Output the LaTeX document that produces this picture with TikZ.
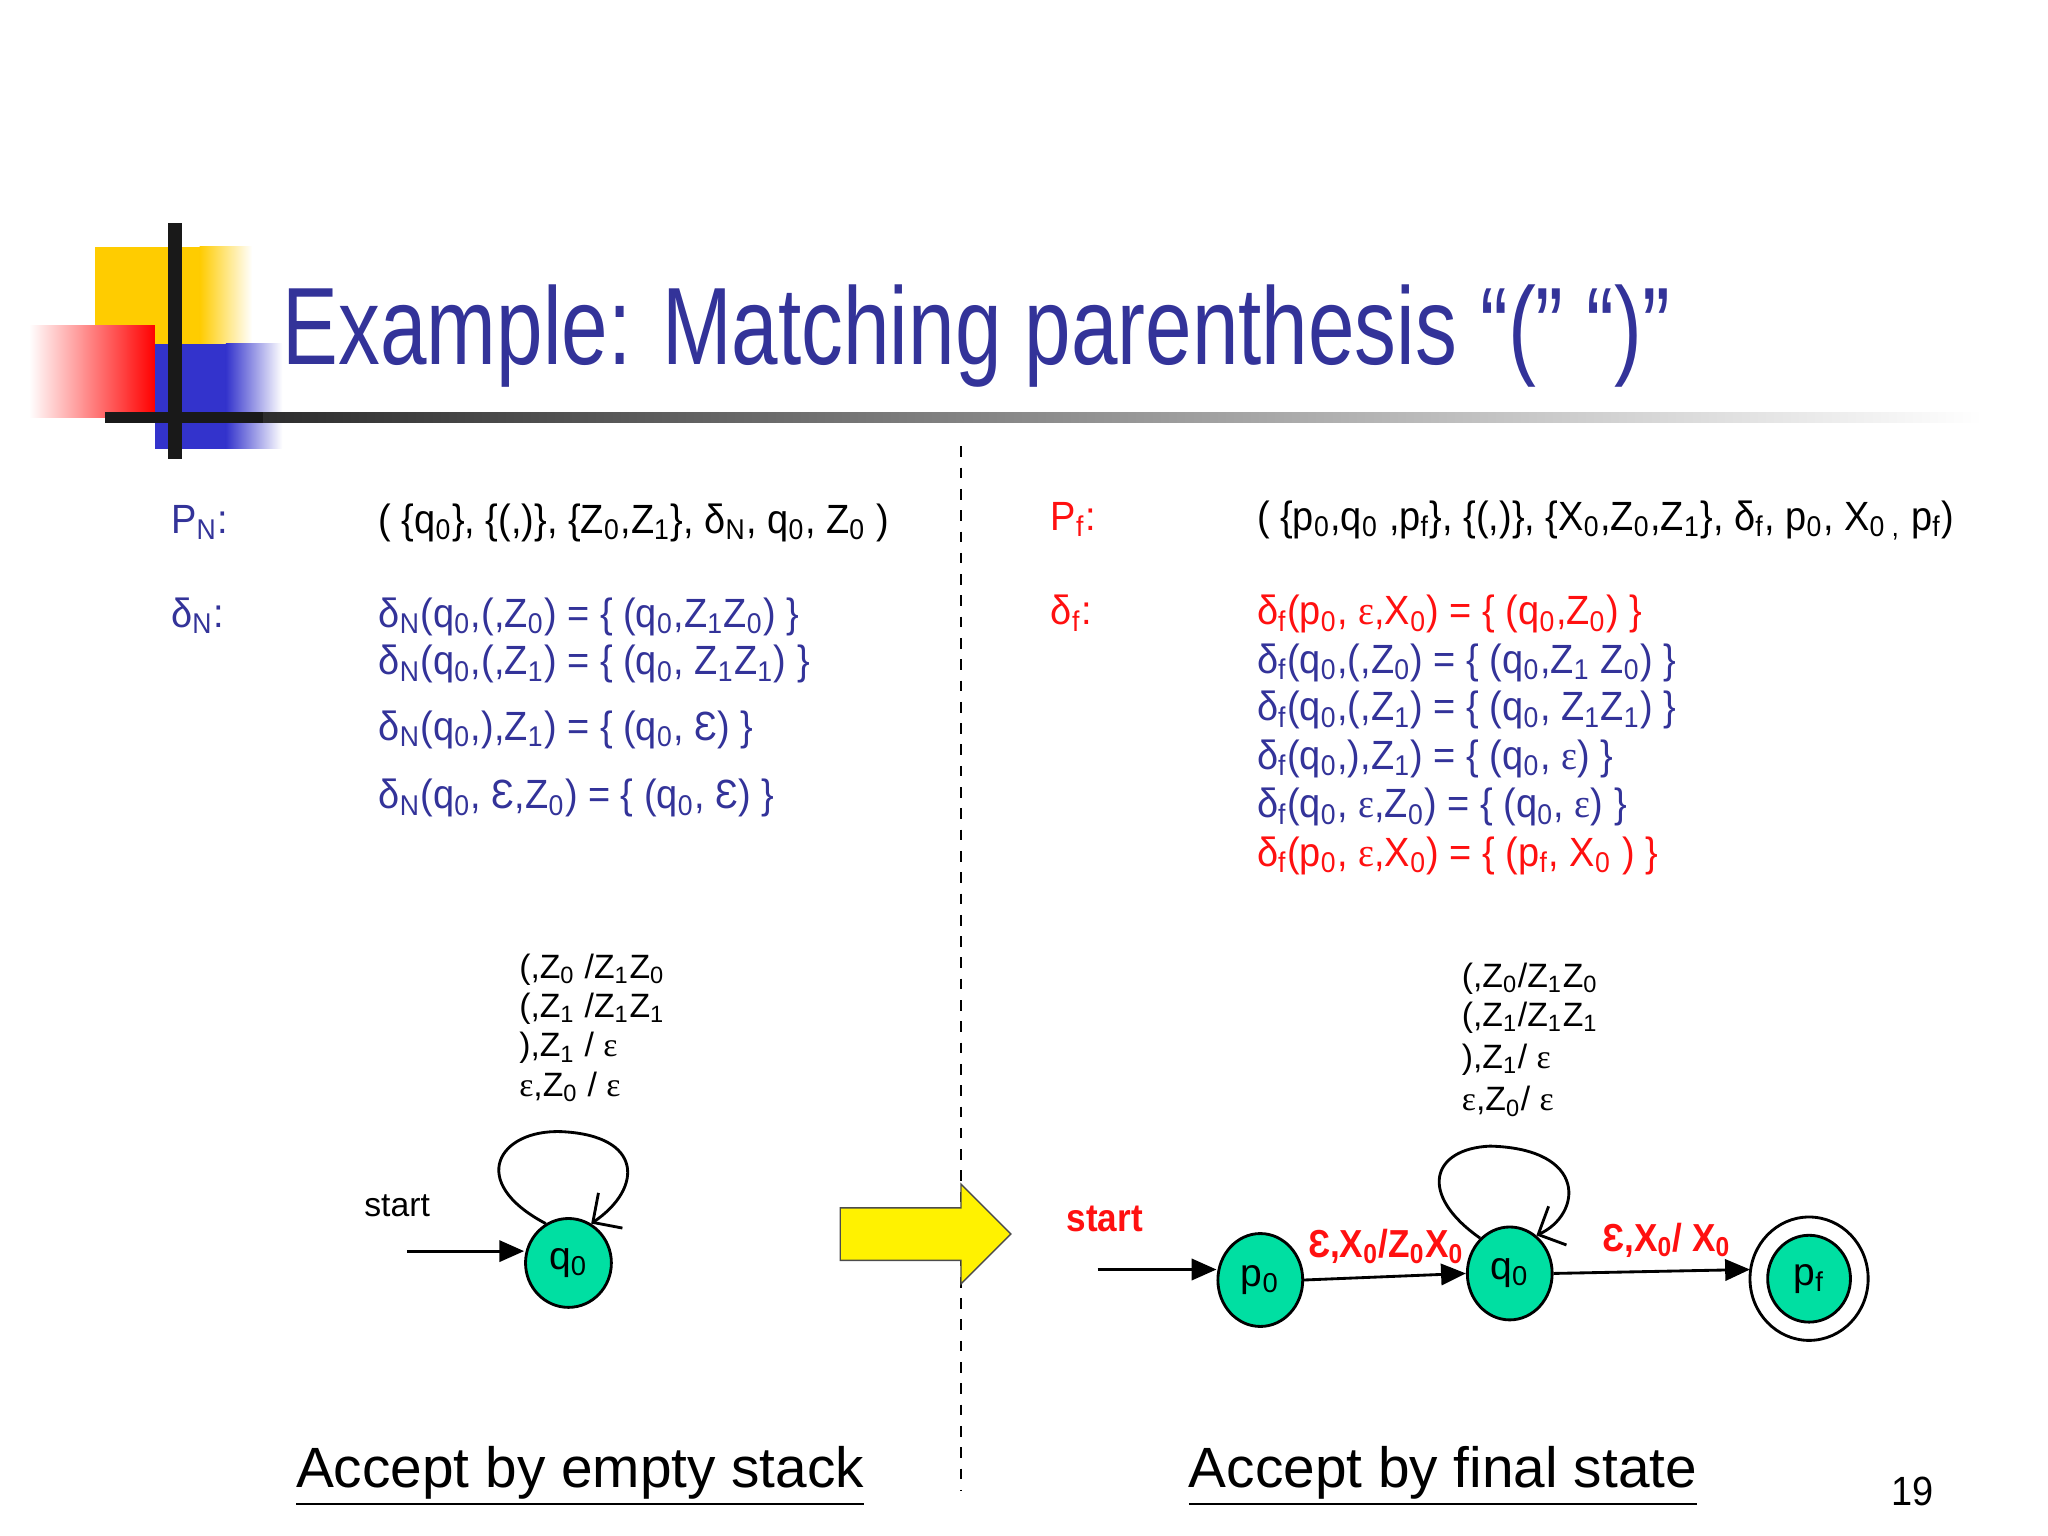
\documentclass[tikz,border=0pt]{standalone}
\usepackage{fontspec}
\setmainfont{Liberation Sans}
\newfontfamily\serifeps{Liberation Serif}
\usetikzlibrary{arrows.meta,shapes.geometric}
\newcommand{\sbs}[1]{\textsubscript{#1}}
\newcommand{\ep}{{\serifeps ε}}
\definecolor{tblue}{HTML}{333399}
\definecolor{tred}{HTML}{FF1010}
\definecolor{stgreen}{HTML}{00DFA2}
\definecolor{dyel}{HTML}{FFCC00}
\definecolor{dblue}{HTML}{3333CC}
\tikzset{
  txt/.style={anchor=base west,inner sep=0pt,xscale=0.93,transform shape,font=\fontsize{11.5pt}{14pt}\selectfont},
  small/.style={anchor=base west,inner sep=0pt,font=\fontsize{9.5pt}{12pt}\selectfont},
  st/.style={draw=black,thick,fill=stgreen,ellipse,inner sep=0pt,font=\fontsize{11pt}{13pt}\selectfont},
  lbl/.style={anchor=base west,inner sep=0pt,xscale=0.9,transform shape,text=tred,font=\bfseries\fontsize{11pt}{13pt}\selectfont},
  arr/.style={thick,-{Triangle[length=7pt,width=6pt]}},
  accept/.style={anchor=base west,inner sep=0pt,font=\fontsize{16pt}{19pt}\selectfont}
}
\begin{document}
\begin{tikzpicture}[x=0.013cm,y=-0.013cm]
\useasboundingbox (0,0) rectangle (1560,1170);
% decoration
\fill[dyel] (72,188) rectangle (152,275);
\shade[left color=dyel,right color=white] (152,188) rectangle (192,275);
\fill[dblue] (118,262) rectangle (172,342);
\shade[left color=dblue,right color=white] (172,262) rectangle (215,342);
\shade[left color=white,right color=red] (22,248) rectangle (118,318);
\shade[left color=black!90,right color=white] (80,314) rectangle (1510,322);
\fill[black!90] (80,314) rectangle (200,322);
\draw[line width=4pt,black!90] (133,170) -- (133,350);
% title
\node[anchor=base west,inner sep=0pt,xscale=0.76,transform shape,text=tblue,font=\fontsize{31pt}{36pt}\selectfont] (title) at (215,278) {Example: Matching parenthesis “(” “)”};
% divider
\draw[dashed,thin] (732,340) -- (732,1135);
% left
\node[txt,text=tblue] (pn) at (130,406) {P\sbs{N}:};
\node[txt] (pnt) at (288,406) {( \{q\sbs{0}\}, \{(,)\}, \{Z\sbs{0},Z\sbs{1}\}, δ\sbs{N}, q\sbs{0}, Z\sbs{0} )};
\node[txt,text=tblue] (dn) at (130,478) {δ\sbs{N}:};
\node[txt,text=tblue] (l1) at (288,478) {δ\sbs{N}(q\sbs{0},(,Z\sbs{0}) = \{ (q\sbs{0},Z\sbs{1}Z\sbs{0}) \}};
\node[txt,text=tblue] (l2) at (288,514) {δ\sbs{N}(q\sbs{0},(,Z\sbs{1}) = \{ (q\sbs{0}, Z\sbs{1}Z\sbs{1}) \}};
\node[txt,text=tblue] (l3) at (288,564) {δ\sbs{N}(q\sbs{0},),Z\sbs{1}) = \{ (q\sbs{0}, Ɛ) \}};
\node[txt,text=tblue] (l4) at (288,616) {δ\sbs{N}(q\sbs{0}, Ɛ,Z\sbs{0}) = \{ (q\sbs{0}, Ɛ) \}};
% right
\node[txt,text=tred] (pf) at (800,404) {P\sbs{f}:};
\node[txt] (pft) at (957,404) {( \{p\sbs{0},q\sbs{0} ,p\sbs{f}\}, \{(,)\}, \{X\sbs{0},Z\sbs{0},Z\sbs{1}\}, δ\sbs{f}, p\sbs{0}, X\sbs{0 ,} p\sbs{f})};
\node[txt,text=tred] (df) at (800,476) {δ\sbs{f}:};
\node[txt,text=tred] (r1) at (957,476) {δ\sbs{f}(p\sbs{0}, \ep,X\sbs{0}) = \{ (q\sbs{0},Z\sbs{0}) \}};
\node[txt,text=tblue] (r2) at (957,513) {δ\sbs{f}(q\sbs{0},(,Z\sbs{0}) = \{ (q\sbs{0},Z\sbs{1} Z\sbs{0}) \}};
\node[txt,text=tblue] (r3) at (957,549) {δ\sbs{f}(q\sbs{0},(,Z\sbs{1}) = \{ (q\sbs{0}, Z\sbs{1}Z\sbs{1}) \}};
\node[txt,text=tblue] (r4) at (957,586) {δ\sbs{f}(q\sbs{0},),Z\sbs{1}) = \{ (q\sbs{0}, \ep) \}};
\node[txt,text=tblue] (r5) at (957,623) {δ\sbs{f}(q\sbs{0}, \ep,Z\sbs{0}) = \{ (q\sbs{0}, \ep) \}};
\node[txt,text=tred] (r6) at (957,660) {δ\sbs{f}(p\sbs{0}, \ep,X\sbs{0}) = \{ (p\sbs{f}, X\sbs{0} ) \}};
% left diagram
\node[small] (ll1) at (395,745) {(,Z\sbs{0} /Z\sbs{1}Z\sbs{0}};
\node[small] (ll2) at (395,775) {(,Z\sbs{1} /Z\sbs{1}Z\sbs{1}};
\node[small] (ll3) at (395,805) {),Z\sbs{1} / \ep};
\node[small] (ll4) at (395,835) {\ep,Z\sbs{0} / \ep};
\node[small] (lstart) at (277,927) {start};
\node[st,minimum width=0.85cm,minimum height=0.88cm] (q0l) at (433,962) {q\sbs{0}};
\coordinate (ls) at (310,953);
\draw[arr] (ls) -- (q0l.west |- ls);
\draw[thick,-{Straight Barb[length=6pt]}] (q0l.120) .. controls (355,900) and (380,860) .. (428,862) .. controls (490,865) and (490,905) .. (q0l.60);
% yellow arrow
\fill[yellow,draw=black!70] (640,920) -- (732,920) -- (732,902) -- (770,940) -- (732,978) -- (732,960) -- (640,960) -- cycle;
% right diagram
\node[small] (rl1) at (1113,752) {(,Z\sbs{0}/Z\sbs{1}Z\sbs{0}};
\node[small] (rl2) at (1113,782) {(,Z\sbs{1}/Z\sbs{1}Z\sbs{1}};
\node[small] (rl3) at (1113,814) {),Z\sbs{1}/ \ep};
\node[small] (rl4) at (1113,846) {\ep ,Z\sbs{0}/ \ep};
\node[lbl] (rstart) at (812,938) {start};
\node[st,minimum width=0.84cm,minimum height=0.92cm] (p0) at (960,975) {p\sbs{0}};
\node[st,minimum width=0.84cm,minimum height=0.92cm] (q0r) at (1150,970) {q\sbs{0}};
\node[st,minimum width=0.82cm,minimum height=0.86cm] (pfn) at (1378,974) {p\sbs{f}};
\draw[thick] (1378,974) ellipse (45 and 47);
\coordinate (rs) at (836,967);
\draw[arr] (rs) -- (p0.west |- rs);
\draw[arr] (p0.east) -- (q0r.west);
\coordinate (pfw) at (1333,967);
\draw[arr] (q0r.east) -- (pfw);
\node[lbl] (e1) at (996,958) {Ɛ,X\sbs{0}/Z\sbs{0}X\sbs{0}};
\node[lbl] (e2) at (1220,953) {Ɛ,X\sbs{0}/ X\sbs{0}};
\draw[thick,-{Straight Barb[length=6pt]}] (q0r.130) .. controls (1080,910) and (1090,875) .. (1135,873) .. controls (1210,875) and (1205,925) .. (q0r.55);
% bottom
\node[accept] (a1) at (225,1133) {\underline{Accept by empty stack}};
\node[accept] (a2) at (905,1133) {\underline{Accept by final state}};
\node[txt] (pg) at (1440,1147) {19};
\end{tikzpicture}
\end{document}
